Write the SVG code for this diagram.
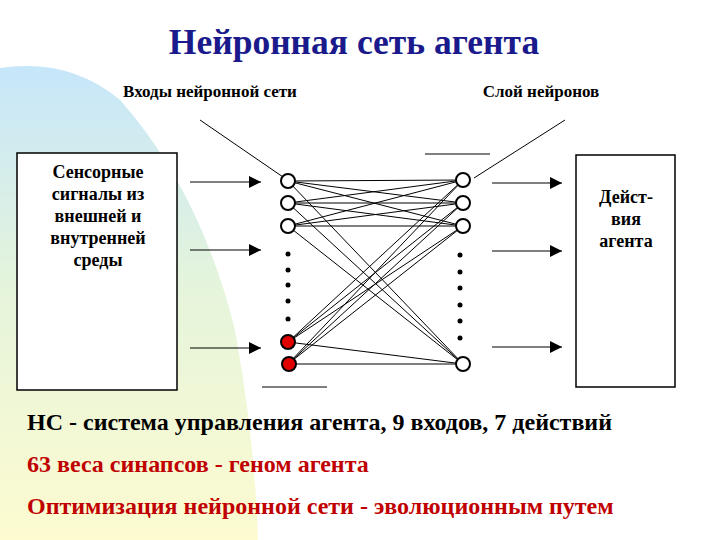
<svg xmlns="http://www.w3.org/2000/svg" width="720" height="540" viewBox="0 0 720 540">
<defs>
<linearGradient id="bg" x1="0" y1="0" x2="0" y2="1">
<stop offset="0" stop-color="#c6e6fa"/><stop offset="0.45" stop-color="#e4f4dc"/><stop offset="1" stop-color="#fdfbd0"/>
</linearGradient>
<marker id="ah" viewBox="0 0 10 10" refX="10" refY="5" markerWidth="14" markerHeight="12" markerUnits="userSpaceOnUse" orient="auto"><path d="M0,0 L10,5 L0,10 z" fill="#000"/></marker>
</defs>
<style>
.t{font-family:"Liberation Serif","DejaVu Serif","Times New Roman",serif;font-weight:bold}
.e{stroke:#000;stroke-width:1;fill:none}
.a{stroke:#000;stroke-width:1.2;marker-end:url(#ah)}
.n{fill:#fff;stroke:#000;stroke-width:2}
.r{fill:#e00000;stroke:#000;stroke-width:2}
.box{fill:#fff;stroke:#000;stroke-width:1.5}
</style>
<rect width="720" height="540" fill="#fff"/>
<path d="M0,68 Q70,58 120,100 Q200,190 235,330 Q255,440 258,540 L0,540 z" fill="url(#bg)"/>
<text class="t" x="354" y="54" font-size="35.5" fill="#1a1a8c" text-anchor="middle">Нейронная сеть агента</text>
<text class="t" x="210" y="97" font-size="17" text-anchor="middle">Входы нейронной сети</text>
<text class="t" x="541" y="97" font-size="17" text-anchor="middle">Слой нейронов</text>
<g id="left-box"><rect class="box" x="17" y="153" width="160" height="237"/>
<text class="t" font-size="18" text-anchor="middle"><tspan x="98" y="178">Сенсорные</tspan><tspan x="98" y="200">сигналы из</tspan><tspan x="98" y="222">внешней и</tspan><tspan x="98" y="244">внутренней</tspan><tspan x="98" y="266">среды</tspan></text></g>
<g id="right-box"><rect class="box" x="576" y="155" width="99" height="232"/>
<text class="t" font-size="18" text-anchor="middle"><tspan x="626" y="203">Дейст-</tspan><tspan x="626" y="225">вия</tspan><tspan x="626" y="247">агента</tspan></text></g>
<g id="connectors">
<line class="e" x1="200" y1="120" x2="283" y2="177"/>
<line class="e" x1="565" y1="120" x2="474" y2="178"/>
<line class="e" x1="425" y1="154" x2="490" y2="154"/>
<line class="e" x1="262" y1="387" x2="327" y2="387"/>
<g class="e">
<line x1="288" y1="181" x2="463" y2="180"/><line x1="288" y1="181" x2="463" y2="203"/><line x1="288" y1="181" x2="463" y2="226"/><line x1="288" y1="181" x2="463" y2="364"/>
<line x1="288" y1="203" x2="463" y2="180"/><line x1="288" y1="203" x2="463" y2="203"/><line x1="288" y1="203" x2="463" y2="226"/><line x1="288" y1="203" x2="463" y2="364"/>
<line x1="288" y1="226" x2="463" y2="180"/><line x1="288" y1="226" x2="463" y2="203"/><line x1="288" y1="226" x2="463" y2="226"/><line x1="288" y1="226" x2="463" y2="364"/>
<line x1="288" y1="342" x2="463" y2="180"/><line x1="288" y1="342" x2="463" y2="203"/><line x1="288" y1="342" x2="463" y2="226"/><line x1="288" y1="342" x2="463" y2="364"/>
<line x1="288" y1="364" x2="463" y2="180"/><line x1="288" y1="364" x2="463" y2="203"/><line x1="288" y1="364" x2="463" y2="226"/><line x1="288" y1="364" x2="463" y2="364"/>
</g>
<line class="a" x1="190" y1="182" x2="261" y2="182"/>
<line class="a" x1="190" y1="250" x2="261" y2="250"/>
<line class="a" x1="190" y1="348" x2="261" y2="348"/>
<line class="a" x1="492" y1="183" x2="562" y2="183"/>
<line class="a" x1="492" y1="251" x2="562" y2="251"/>
<line class="a" x1="492" y1="347" x2="562" y2="347"/>
</g>
<g id="input-nodes">
<circle class="n" cx="288" cy="181" r="7"/><circle class="n" cx="288" cy="203" r="7"/><circle class="n" cx="288" cy="226" r="7"/>
<circle class="r" cx="288" cy="342" r="7"/><circle class="r" cx="289" cy="364" r="7"/>
<g fill="#000"><circle cx="288" cy="254" r="2.5"/><circle cx="288" cy="270" r="2.5"/><circle cx="288" cy="285" r="2.5"/><circle cx="288" cy="301" r="2.5"/><circle cx="288" cy="319" r="2.5"/></g>
</g>
<g id="neuron-nodes">
<circle class="n" cx="463" cy="180" r="7"/><circle class="n" cx="463" cy="203" r="7"/><circle class="n" cx="463" cy="226" r="7"/><circle class="n" cx="463" cy="364" r="7"/>
<g fill="#000"><circle cx="460" cy="255" r="2.5"/><circle cx="460" cy="272" r="2.5"/><circle cx="460" cy="288" r="2.5"/><circle cx="460" cy="305" r="2.5"/><circle cx="460" cy="321" r="2.5"/><circle cx="460" cy="338" r="2.5"/></g>
</g>
<text class="t" x="27" y="430" font-size="24" fill="#000">НС - система управления агента, 9 входов, 7 действий</text>
<text class="t" x="27" y="472" font-size="24" fill="#c00000">63 веса синапсов - геном агента</text>
<text class="t" x="27" y="514" font-size="24" fill="#c00000">Оптимизация нейронной сети - эволюционным путем</text>
</svg>
